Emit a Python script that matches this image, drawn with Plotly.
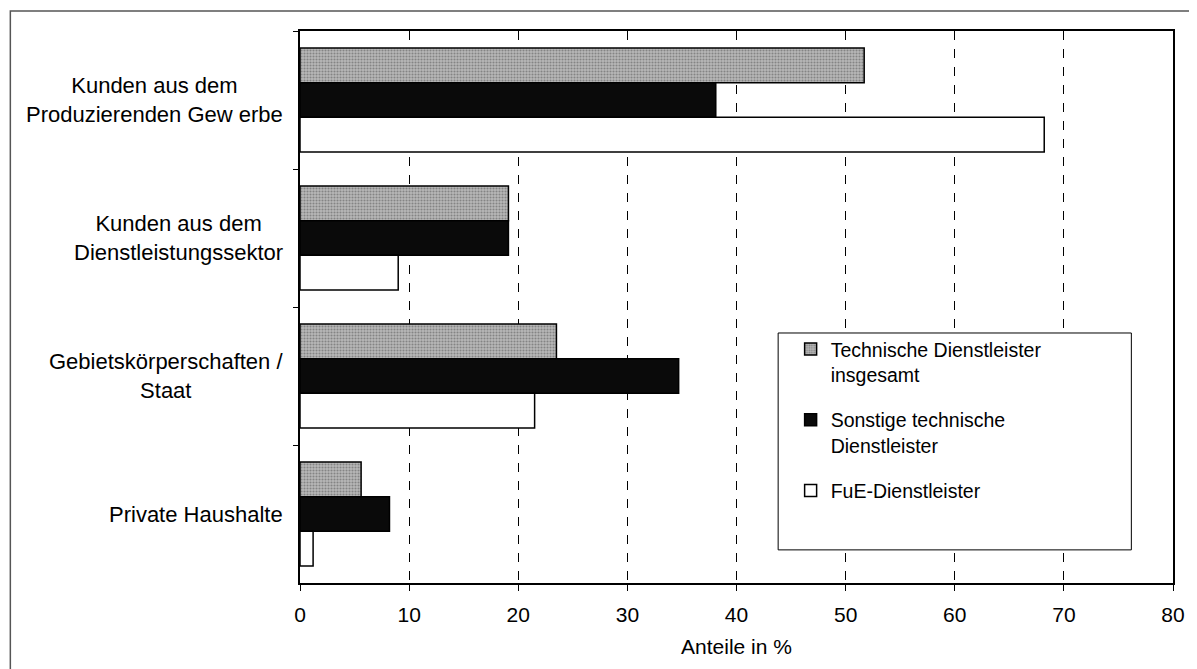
import plotly.graph_objects as go

# categories (top to bottom) and shares in %
categories = [
    "Kunden aus dem<br>Produzierenden Gew erbe",
    "Kunden aus dem<br>Dienstleistungssektor",
    "Gebietskörperschaften /<br>Staat",
    "Private Haushalte",
]
series_names = [
    "Technische Dienstleister<br>insgesamt",
    "Sonstige technische<br>Dienstleister",
    "FuE-Dienstleister",
]
tech_total = [51.7, 19.1, 23.5, 5.6]
other_tech = [38.1, 19.1, 34.7, 8.2]
fue = [68.2, 9.0, 21.5, 1.2]
x_ticks = [0, 10, 20, 30, 40, 50, 60, 70, 80]

FONT = "Liberation Sans, Arial, sans-serif"

fig = go.Figure()

# grey halftone bar
fig.add_trace(go.Bar(
    y=categories, x=tech_total, orientation="h", name=series_names[0],
    legendgroup="a",
    marker=dict(color="#a8a8a8", line=dict(color="black", width=1.5),
                pattern=dict(shape=".", fgcolor="#505050", bgcolor="#b8b8b8",
                             size=3, solidity=0.4)),
))
# black bar
fig.add_trace(go.Bar(
    y=categories, x=other_tech, orientation="h", name=series_names[1],
    legendgroup="b",
    marker=dict(color="#0a0a0a", line=dict(color="black", width=1.5)),
))
# white bar
fig.add_trace(go.Bar(
    y=categories, x=fue, orientation="h", name=series_names[2],
    legendgroup="c",
    marker=dict(color="white", line=dict(color="black", width=1.5)),
))

# left category labels, centred lines, right aligned block
for cat in categories:
    fig.add_annotation(
        x=-0.017, xref="paper", y=cat, yref="y",
        text=cat, showarrow=False, xanchor="right", align="center",
        font=dict(family=FONT, size=22, color="black"),
    )

# outer frame of the scanned chart
fig.add_shape(type="rect", xref="paper", yref="paper",
              x0=-0.3318, x1=1.0284, y0=-0.18, y1=1.0362,
              line=dict(color="#555555", width=1.5), layer="below")
# legend box
fig.add_shape(type="rect", xref="paper", yref="paper",
              x0=0.5477, x1=0.9523, y0=0.06, y1=0.4529,
              fillcolor="white", line=dict(color="black", width=1), layer="above")

# page body has an 8px margin, so the figure is a bit smaller than the window
fig.update_layout(
    width=1189, height=661,
    margin=dict(l=292, r=17, t=23, b=86),
    paper_bgcolor="white", plot_bgcolor="white",
    barmode="group", bargap=0.246, bargroupgap=0,
    font=dict(family=FONT, size=21, color="black"),
    showlegend=True,
    legend=dict(x=0.562, y=0.4585, xanchor="left", yanchor="top",
                bgcolor="rgba(0,0,0,0)", borderwidth=0,
                font=dict(family=FONT, size=19.5, color="black"),
                valign="top", tracegroupgap=17, itemwidth=30,
                traceorder="grouped"),
    xaxis=dict(range=[0, 80], tickvals=x_ticks, ticks="outside", ticklen=6,
               tickcolor="black", showline=True, linecolor="black", linewidth=1.5,
               mirror=True, showgrid=True, gridcolor="black", griddash="dash",
               gridwidth=1, zeroline=False, ticklabelstandoff=6,
               tickfont=dict(family=FONT, size=21),
               title=dict(text="Anteile in %", standoff=14,
                          font=dict(family=FONT, size=21))),
    yaxis=dict(autorange="reversed", showticklabels=False, ticks="outside",
               tickson="boundaries", ticklen=5, tickcolor="black",
               showline=True, linecolor="black", linewidth=1.5, mirror=True,
               showgrid=False, zeroline=False),
)

fig.write_html("out.html")
